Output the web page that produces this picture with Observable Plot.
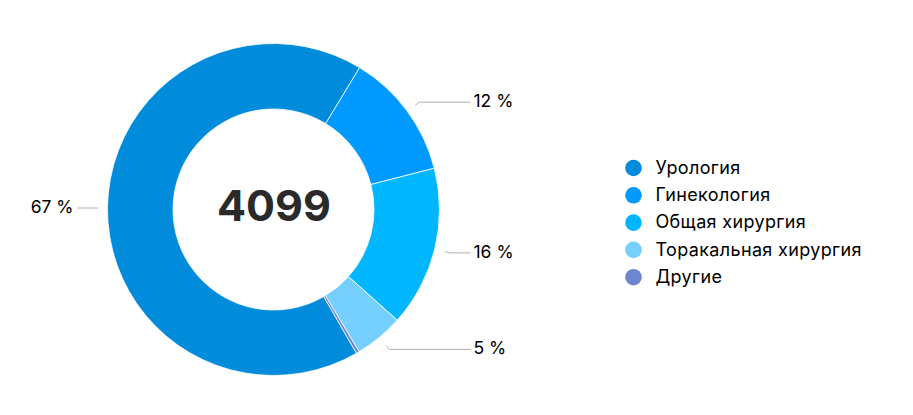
<!DOCTYPE html>
<html>
<head>
<meta charset="utf-8">
<script src="https://cdn.jsdelivr.net/npm/d3@7"></script>
<script src="https://cdn.jsdelivr.net/npm/@observablehq/plot@0.6"></script>
<style>
  html, body { margin: 0; padding: 0; background: #fff; }
  #chart svg { display: block; font-family: Inter, "Noto Sans", sans-serif; }
  #chart svg .legend-text text { letter-spacing: 0.35px; }
</style>
</head>
<body>
<div id="chart"></div>
<script>
// ---- data ----
const categories = ["Урология", "Гинекология", "Общая хирургия", "Торакальная хирургия", "Другие"];
const counts = [2747, 505, 640, 195, 12];
const colors = ["#008bdb", "#0099ff", "#00b6ff", "#76d0ff", "#6e86d0"];
const totalLabel = "4099";

// ---- layout ----
const W = 913, H = 415;
const cx = 273.5, cy = 209.5, R = 166, R0 = 100.5;
const startDeg = 150;

const total = d3.sum(counts);
const rows = categories.map((c, i) => ({category: c, value: counts[i], color: colors[i]}));
const arcs = d3.pie().value(d => d.value).sort(null)
  .startAngle(startDeg * Math.PI / 180)
  .endAngle(startDeg * Math.PI / 180 + 2 * Math.PI)(rows);

const polar = (a, r) => [cx + r * Math.sin(a), cy - r * Math.cos(a)];

// leader lines & labels (only for visible percentages)
const labelsR = [], labelsL = [];
const kinks = [];
const hlines = [];
arcs.forEach(a => {
  const pct = Math.round(a.data.value / total * 100);
  if (pct < 1) return;
  const mid = (a.startAngle + a.endAngle) / 2;
  const [x1, y1] = polar(mid, 176);
  const [x2, y2] = polar(mid, 181);
  const right = Math.sin(mid) > 0;
  const xe = right ? 470 : 77;
  kinks.push({x1, y1, x2, y2});
  hlines.push({x1: x2, y1: y2, x2: xe, y2});
  (right ? labelsR : labelsL).push({x: right ? 473 : 73, y: y2 - 0.8, text: `${pct} %`});
});

const donut = (index, scales, values, dimensions, context) => {
  const sx = scales && scales.x ? scales.x : (v => v);
  const sy = scales && scales.y ? scales.y : (v => v);
  const g = d3.create("svg:g").attr("transform", `translate(${sx(cx)},${sy(cy)})`);
  const arcGen = d3.arc().innerRadius(R0).outerRadius(R);
  g.selectAll("path").data(arcs).join("path")
    .attr("d", arcGen)
    .attr("fill", d => d.data.color)
    .attr("stroke", "#fff")
    .attr("stroke-width", 0.8)
    .attr("stroke-linejoin", "round");
  return g.node();
};

const legendRows = categories.map((c, i) => ({category: c, color: colors[i], i}));

const chart = Plot.plot({
  width: W,
  height: H,
  margin: 0,
  x: {domain: [0, W], range: [0, W], axis: null},
  y: {domain: [0, H], range: [0, H], axis: null},
  marks: [
    donut,
    Plot.link(kinks, {x1: "x1", y1: "y1", x2: "x2", y2: "y2", stroke: "#b0b0b0", strokeWidth: 1}),
    Plot.link(hlines, {x1: "x1", y1: "y1", x2: "x2", y2: "y2", stroke: "#b0b0b0", strokeWidth: 1}),
    Plot.text(labelsR, {x: "x", y: "y", text: "text", textAnchor: "start", fontSize: 17.5, fill: "#000"}),
    Plot.text(labelsL, {x: "x", y: "y", text: "text", textAnchor: "end", fontSize: 17.5, fill: "#000"}),
    Plot.text([totalLabel], {x: () => cx, y: () => cy - 2.5, text: d => d, fontSize: 43, fontWeight: 700, fill: "#2a2a2a"}),
    Plot.dot(legendRows, {x: () => 633, y: d => 167.5 + d.i * 27.3, r: 8.3, fill: d => d.color, stroke: null}),
    Plot.text(legendRows, {x: () => 655, y: d => 167.5 + d.i * 27.3, text: "category", textAnchor: "start", fontSize: 18, fill: "#000", className: "legend-text"})
  ]
});

document.getElementById("chart").appendChild(chart);
</script>
</body>
</html>
